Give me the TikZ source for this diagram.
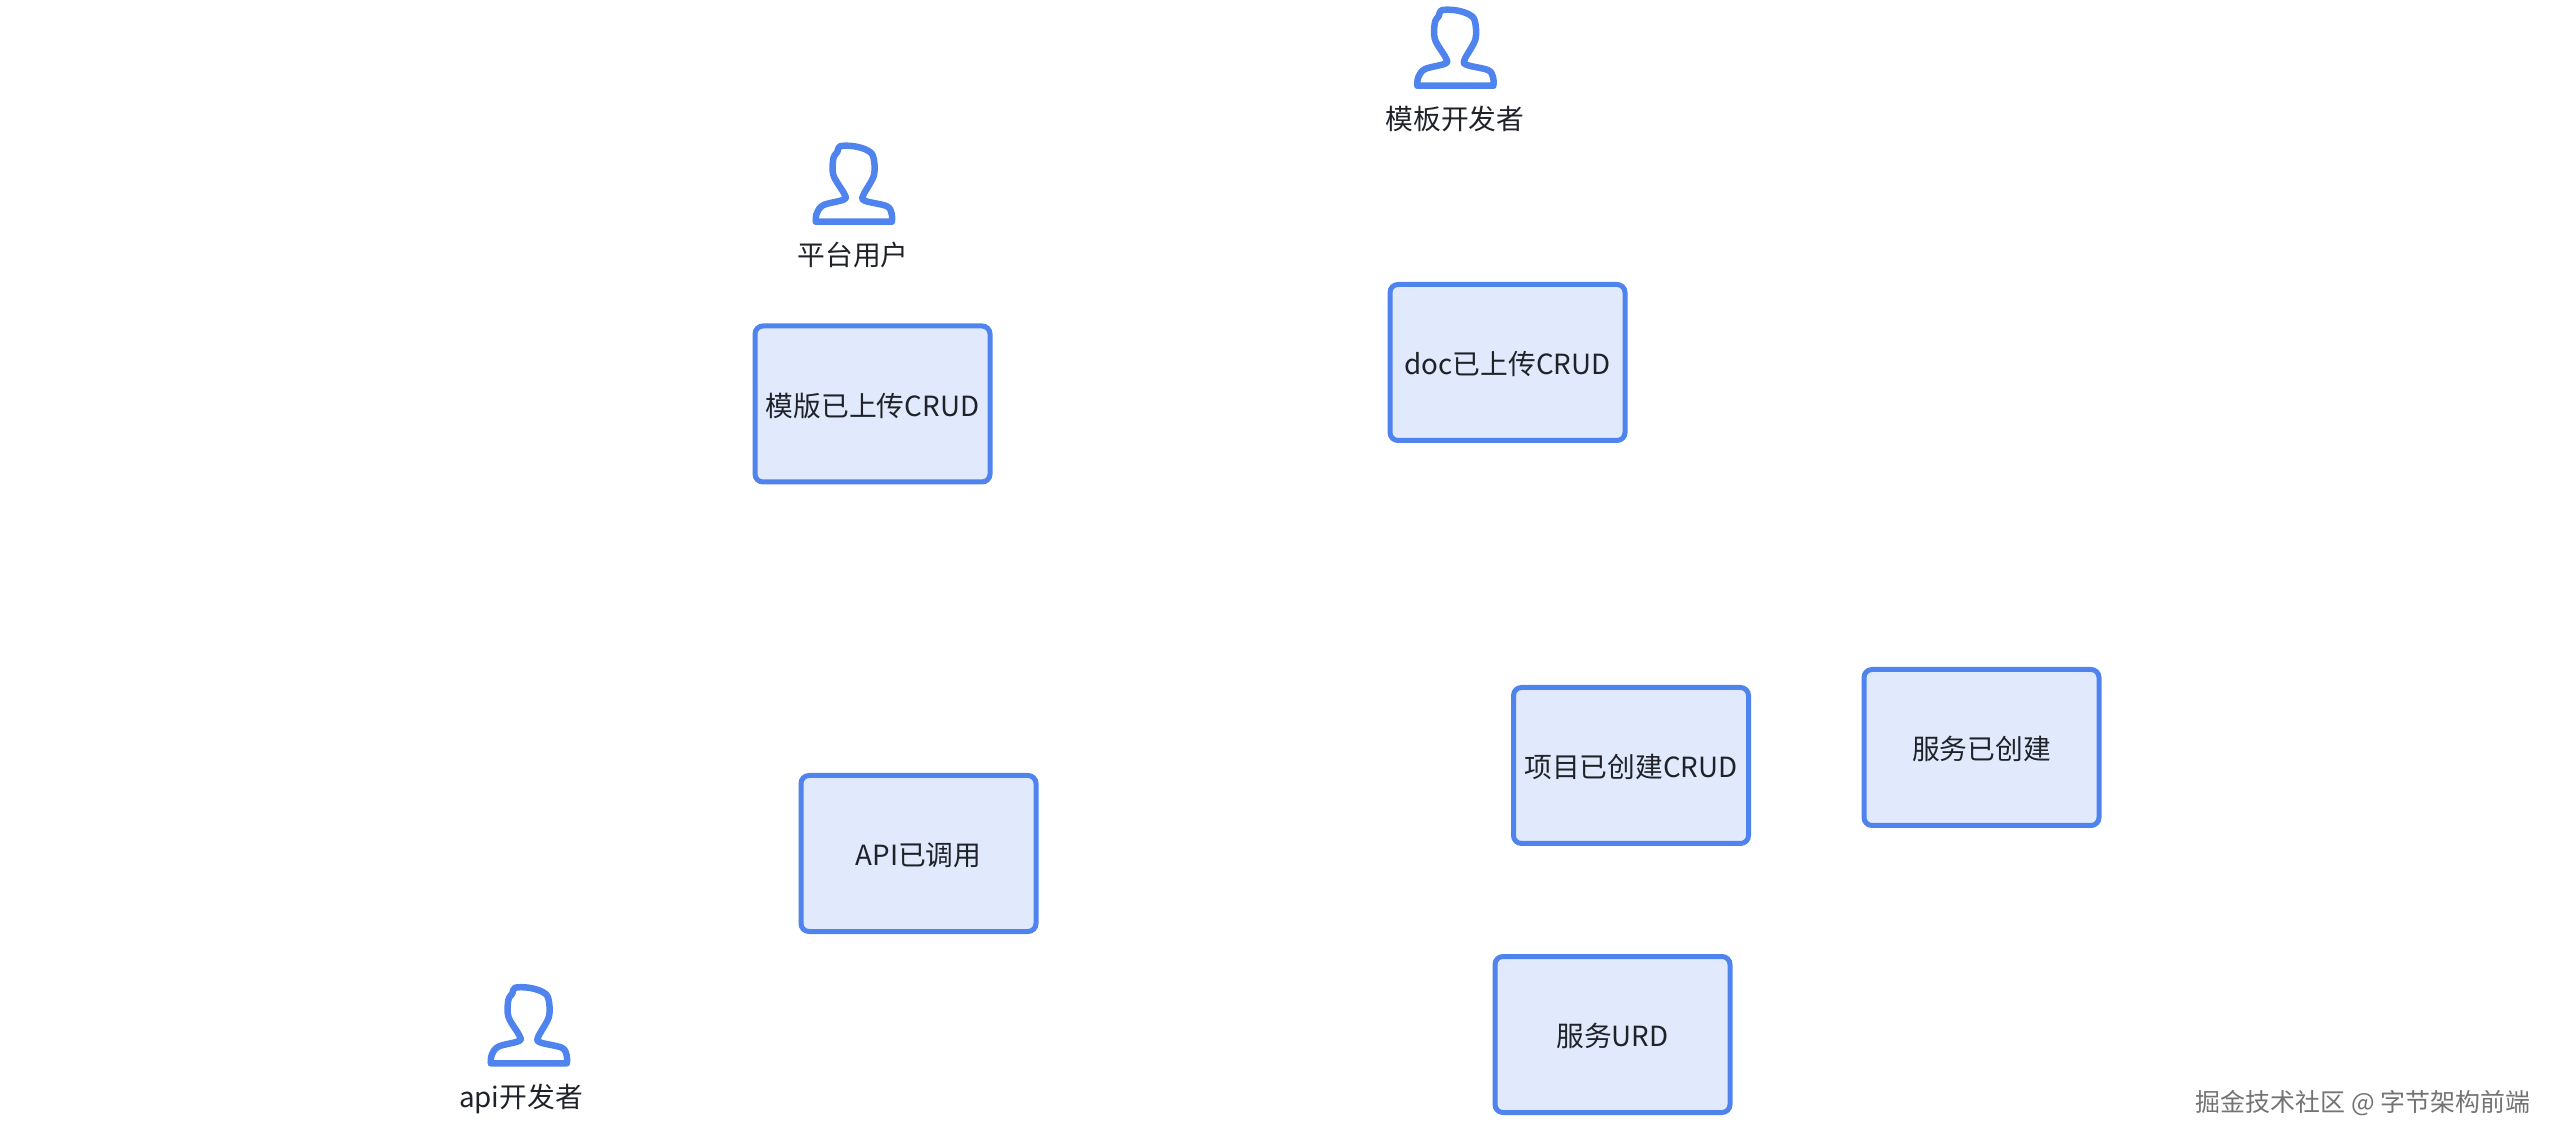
\documentclass[tikz,border=0pt]{standalone}
\usepackage{fontspec}
\setmainfont{Noto Sans CJK SC}
\usepackage{xcolor}
\definecolor{boxline}{HTML}{4F83EE}
\definecolor{boxfill}{HTML}{E1EAFC}
\definecolor{boxtext}{HTML}{1F2329}
\tikzset{
    state/.style = {draw=boxline, fill=boxfill, text=boxtext, line width=0.05cm, rounded corners=0.08cm,
        minimum width=2.35cm, minimum height=1.56cm, inner sep=0pt, text height=8pt, text depth=0.9pt,
        font=\fontsize{7.9pt}{9pt}\selectfont},
    actor label/.style = {text=boxtext, inner sep=0pt, text height=8pt, text depth=0.9pt,
        font=\fontsize{7.9pt}{9pt}\selectfont},
    actor/.pic = {
        \draw[boxline, line width=0.065cm, line join=round, x=0.00333cm, y=0.00333cm]
            plot[smooth, tension=0.55] coordinates {(-115,-115) (-112,-90) (-92,-65) (-30,-48) (-30,-30) (-62,25)
                (-62,75) (-50,95) (-42,112) (0,112) (40,100) (58,80) (60,25) (28,-35) (33,-52) (98,-68) (113,-90) (114,-115)} -- cycle;
    },
}

\begin{document}
\begin{tikzpicture}
    \useasboundingbox (0, 0) rectangle (25.6, -11.44);

    \node[state] (templatecrud) at (8.725, -4.04) {模版已上传CRUD};
    \node[state] (doccrud) at (15.075, -3.625) {doc已上传CRUD};
    \node[state] (projectcrud) at (16.31, -7.655) {项目已创建CRUD};
    \node[state] (servicenew) at (19.815, -7.475) {服务已创建};
    \node[state] (apicall) at (9.185, -8.535) {API已调用};
    \node[state] (serviceurd) at (16.125, -10.345) {服务URD};

    \pic at (8.54, -1.835) {actor};
    \node[actor label] (user) at (8.53, -2.53) {平台用户};
    \pic at (14.555, -0.475) {actor};
    \node[actor label] (templatedev) at (14.55, -1.17) {模板开发者};
    \pic at (5.29, -10.25) {actor};
    \node[actor label] (apidev) at (5.21, -10.95) {api开发者};

    \node[text=black!55, inner sep=0pt, font=\fontsize{7.1pt}{9pt}\selectfont] (mark) at (23.63, -11.03) {掘金技术社区 @ 字节架构前端};
\end{tikzpicture}
\end{document}
